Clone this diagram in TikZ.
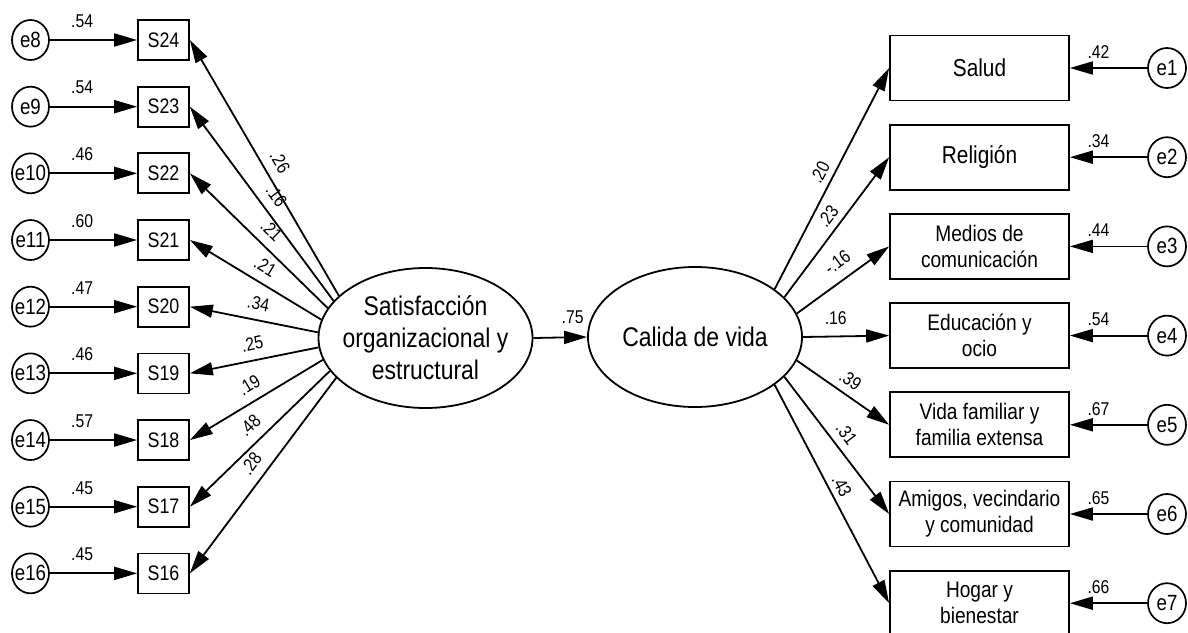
\documentclass[tikz,border=0pt]{standalone}
\usepackage{fontspec}
\setmainfont{Liberation Sans}[FakeStretch=0.85]
\usetikzlibrary{arrows.meta,shapes.geometric}
\begin{document}
\begin{tikzpicture}[x=1pt,y=-1pt,
  arr/.style={line width=1.8pt,-{Triangle[length=23pt,width=13pt]}},
  errc/.style={draw,ellipse,line width=1.7pt,minimum width=37pt,minimum height=40pt,inner sep=0pt},
  errt/.style={font=\fontsize{22}{24}\selectfont,inner sep=0pt},
  obs/.style={draw,rectangle,line width=1.7pt,minimum width=51pt,minimum height=40pt,inner sep=0pt,font=\fontsize{21}{24}\selectfont},
  obsb/.style={draw,rectangle,line width=1.7pt,minimum width=179pt,minimum height=65pt,inner sep=0pt,align=center,font=\fontsize{22.5}{26}\selectfont},
  obsbig/.style={obsb,font=\fontsize{24.5}{28}\selectfont},
  lat/.style={draw,ellipse,line width=1.8pt,minimum width=214pt,minimum height=140pt,inner sep=0pt},
  latt/.style={align=center,font=\fontsize{27}{32}\selectfont,inner sep=0pt},
  lab/.style={font=\fontsize{18.5}{20}\selectfont,inner sep=0pt,outer sep=0pt},
  ]
\clip (0,0) rectangle (1188,632);
\fill[white] (0,0) rectangle (1188,632);

% latent variables
\node[lat] (sat) at (425.5,338) {};
\node[latt] (satt) at (sat.center) {Satisfacción\\organizacional y\\estructural};
\node[lat] (cal) at (695,337) {};
\node[latt] (calt) at (cal.center) {Calida de vida};
\draw[arr] (sat.east) -- (cal.west) node[lab,pos=0.73,above=14pt] (l75) {.75};

% left indicators
\foreach \i/\a/\b/\ev/\sv/\ang in {0/8/24/.54/.26/154, 1/9/23/.54/.16/158, 2/10/22/.46/.21/163, 3/11/21/.60/.21/170, 4/12/20/.47/.34/177, 5/13/19/.46/.25/185, 6/14/18/.57/.19/192, 7/15/17/.45/.48/199, 8/16/16/.45/.28/204}{
  \node[errc] (e\a) at (30.5,{40+66.67*\i}) {};
  \node[errt] (et\a) at (e\a.center) {e\a};
  \node[obs] (s\b) at (163.5,{40+66.67*\i}) {S\b};
  \draw[arr] (e\a) -- (s\b) node[lab,pos=0.37,above=12.5pt] (le\a) {\ev};
  \draw[arr] (sat.\ang) -- (s\b.east) node[lab,sloped,pos=0.49,above=10pt] (ls\b) {\sv};
}

% right indicators
\node[obsbig] (salud) at (979.5,68) {Salud};
\node[obsbig] (relig) at (979.5,157.2) {Religión};
\node[obsb] (medios) at (979.5,246.4) {Medios de\\comunicación};
\node[obsb] (educ) at (979.5,335.6) {Educación y\\ocio};
\node[obsb] (vida) at (979.5,424.8) {Vida familiar y\\familia extensa};
\node[obsb] (amigos) at (979.5,514) {Amigos, vecindario\\y comunidad};
\node[obsb] (hogar) at (979.5,603.2) {Hogar y\\bienestar};

\foreach \n/\bx/\yy/\ev in {1/salud/68/.42, 2/relig/157.2/.34, 3/medios/246.4/.44, 4/educ/335.6/.54, 5/vida/424.8/.67, 6/amigos/514/.65, 7/hogar/603.2/.66}{
  \node[errc,minimum width=38pt] (e\n) at (1167,\yy) {};
  \node[errt] (et\n) at (e\n.center) {e\n};
  \draw[arr] (e\n) -- (\bx) node[lab,pos=0.63,above=9.5pt] (lr\n) {\ev};
}

\draw[arr] (cal.31) -- (salud.west) node[lab,sloped,pos=0.5,above=7pt] (p1) {.20};
\draw[arr] (cal.24) -- (relig.west) node[lab,sloped,pos=0.52,above=7pt] (p2) {.23};
\draw[arr] (cal.13) -- (medios.west) node[lab,sloped,pos=0.55,above=11pt] (p3) {-.16};
\draw[arr] (cal.0) -- (educ.west) node[lab,pos=0.38,above=11.5pt] (p4) {.16};
\draw[arr] (cal.347) -- (vida.west) node[lab,sloped,pos=0.49,above=8pt] (p5) {.39};
\draw[arr] (cal.336) -- (amigos.west) node[lab,sloped,pos=0.48,above=8.5pt] (p6) {.31};
\draw[arr] (cal.329) -- (hogar.west) node[lab,sloped,pos=0.49,above=6pt] (p7) {.43};
\end{tikzpicture}
\end{document}
